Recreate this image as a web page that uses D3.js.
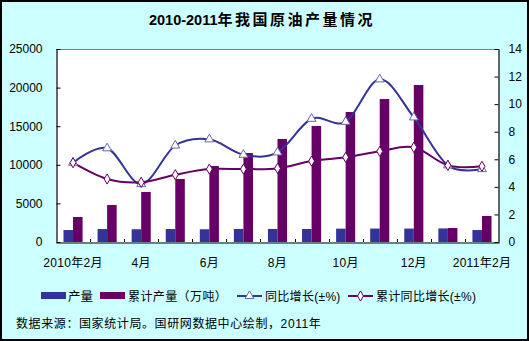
<!DOCTYPE html>
<html><head><meta charset="utf-8">
<script src="https://cdn.jsdelivr.net/npm/d3@7"></script>
<style>
body{margin:0;padding:0;background:#fff;}
svg{display:block;}
text{font-family:"Liberation Sans","Noto Sans CJK SC",Arial,sans-serif;}
</style></head><body>
<svg id="chart" width="529" height="341"></svg>
<script>
const categories = ["2010年2月","3月","4月","5月","6月","7月","8月","9月","10月","11月","12月","2011年1月","2011年2月"];
const tickLabels = ["2010年2月","","4月","","6月","","8月","","10月","","12月","","2011年2月"];
const output = [1550,1680,1650,1680,1650,1690,1690,1690,1730,1740,1740,1760,1550];
const cumOutput = [3240,4790,6480,8160,9840,11530,13340,15030,16840,18520,20340,1810,3370];
const yoy = [5.75,6.8,4.2,7.0,7.45,6.33,6.5,8.94,8.72,11.8,9.04,5.56,5.29];
const cumYoy = [5.75,4.57,4.33,4.88,5.29,5.29,5.34,5.87,6.14,6.58,6.87,5.56,5.49];
const leftTicks = [0,5000,10000,15000,20000,25000];
const rightTicks = [0,2,4,6,8,10,12,14];
const seriesNames = ["产量","累计产量（万吨）","同比增长(±%)","累计同比增长(±%)"];

const svg = d3.select("#chart");
const W = 529, H = 341;
const L = 56, R = 499, T = 49, B = 242;
const blue = "#333399", purple = "#660066";

svg.append("rect").attr("x",1).attr("y",1).attr("width",W-2).attr("height",H-2)
  .attr("fill","#CCFFFF").attr("stroke","#000").attr("stroke-width",2);

svg.append("text").attr("x",262).attr("y",25).attr("text-anchor","middle")
  .attr("font-weight","bold").attr("font-size","14.5px")
  .call(t=>{
    t.append("tspan").text("2010-2011");
    t.append("tspan").attr("font-size","15px").attr("letter-spacing","2.5px").text("年我国原油产量情况");
  });

svg.append("rect").attr("x",L).attr("y",T).attr("width",R-L).attr("height",B-T).attr("fill","#fff");
svg.append("line").attr("x1",L).attr("x2",R).attr("y1",T+0.5).attr("y2",T+0.5).attr("stroke","#808080");

const x = d3.scaleBand().domain(categories).range([L,R]).paddingInner(0).paddingOuter(0);
const yL = d3.scaleLinear().domain([0,25000]).range([B,T]);
const yR = d3.scaleLinear().domain([0,14]).range([B,T]);
const bw = x.bandwidth()*0.28;

// bars
const g = svg.append("g");
g.selectAll(".b1").data(output).join("rect")
  .attr("x",(d,i)=>x(categories[i])+x.bandwidth()/2-bw)
  .attr("y",d=>yL(d)).attr("width",bw).attr("height",d=>B-yL(d)).attr("fill",blue);
g.selectAll(".b2").data(cumOutput).join("rect")
  .attr("x",(d,i)=>x(categories[i])+x.bandwidth()/2)
  .attr("y",d=>yL(d)).attr("width",bw).attr("height",d=>B-yL(d)).attr("fill",purple);

// axes
const axL = d3.axisLeft(yL).tickValues(leftTicks).tickFormat(d3.format("d")).tickSizeInner(-4).tickSizeOuter(0).tickPadding(14);
const gl = svg.append("g").attr("transform",`translate(${L+0.5},0)`).call(axL);
const axR = d3.axisRight(yR).tickValues(rightTicks).tickFormat(d3.format("d")).tickSizeInner(-4).tickSizeOuter(0).tickPadding(10);
const gr = svg.append("g").attr("transform",`translate(${R-0.5},0)`).call(axR);
const axB = d3.axisBottom(x).tickValues([]).tickSizeOuter(0);
const gb = svg.append("g").attr("transform",`translate(0,${B+0.5})`).call(axB);
[gl,gr,gb].forEach(a=>{
  a.selectAll("path").attr("stroke","#000").attr("stroke-width",1.2);
  a.selectAll("line").attr("stroke","#000");
  a.selectAll("text").attr("font-size","12px").attr("fill","#000").attr("font-family",'"Liberation Sans",Arial,sans-serif');
});
// band boundary ticks (inward)
const bounds = categories.map(c=>x(c)).slice(1);
svg.append("g").selectAll("line").data(bounds).join("line")
  .attr("x1",d=>Math.round(d)+0.5).attr("x2",d=>Math.round(d)+0.5)
  .attr("y1",B-3).attr("y2",B).attr("stroke","#000");
// x labels
svg.append("g").selectAll("text").data(categories).join("text")
  .attr("x",d=>x(d)+x.bandwidth()/2).attr("y",267).attr("text-anchor","middle")
  .attr("font-size","12px").attr("letter-spacing","0.3px")
  .text((d,i)=>tickLabels[i]);

// lines
const cx = i=>x(categories[i])+x.bandwidth()/2;
const line = d3.line().x((d,i)=>cx(i)).y(d=>yR(d)).curve(d3.curveCatmullRom.alpha(0));
svg.append("path").datum(yoy).attr("d",line).attr("fill","none").attr("stroke",blue).attr("stroke-width",2);
svg.append("path").datum(cumYoy).attr("d",line).attr("fill","none").attr("stroke",purple).attr("stroke-width",2);
const tri = d3.symbol().type(d3.symbolTriangle).size(34);
const dia = d3.symbol().type(d3.symbolDiamond).size(30);
svg.append("g").selectAll("path").data(yoy).join("path")
  .attr("transform",(d,i)=>`translate(${cx(i)},${yR(d)})`).attr("d",tri)
  .attr("fill","#fff").attr("stroke","#6666AA").attr("stroke-width",1);
svg.append("g").selectAll("path").data(cumYoy).join("path")
  .attr("transform",(d,i)=>`translate(${cx(i)},${yR(d)})`).attr("d",dia)
  .attr("fill","#fff").attr("stroke",purple).attr("stroke-width",1);

// legend
const lg = svg.append("g");
const ly = 296;
lg.append("rect").attr("x",41).attr("y",ly-4).attr("width",25).attr("height",7).attr("fill",blue);
lg.append("text").attr("x",68).attr("y",ly+5).attr("font-size","12.5px").text(seriesNames[0]);
lg.append("rect").attr("x",100).attr("y",ly-4).attr("width",25).attr("height",7).attr("fill",purple);
lg.append("text").attr("x",128).attr("y",ly+5).attr("font-size","12px").attr("letter-spacing","0.4px").text(seriesNames[1]);
lg.append("line").attr("x1",237).attr("x2",262).attr("y1",ly).attr("y2",ly).attr("stroke",blue).attr("stroke-width",2);
lg.append("path").attr("transform",`translate(249.5,${ly})`).attr("d",tri).attr("fill","#fff").attr("stroke","#6666AA");
lg.append("text").attr("x",265).attr("y",ly+5).attr("font-size","12px").attr("letter-spacing","0.3px").text(seriesNames[2]);
lg.append("line").attr("x1",348).attr("x2",373).attr("y1",ly).attr("y2",ly).attr("stroke",purple).attr("stroke-width",2);
lg.append("path").attr("transform",`translate(360.5,${ly})`).attr("d",dia).attr("fill","#fff").attr("stroke",purple);
lg.append("text").attr("x",376).attr("y",ly+5).attr("font-size","12px").attr("letter-spacing","0.3px").text(seriesNames[3]);

svg.append("text").attr("x",16).attr("y",328).attr("font-size","12px").attr("letter-spacing","0.6px")
  .text("数据来源：国家统计局。国研网数据中心绘制，2011年");
</script></body></html>
